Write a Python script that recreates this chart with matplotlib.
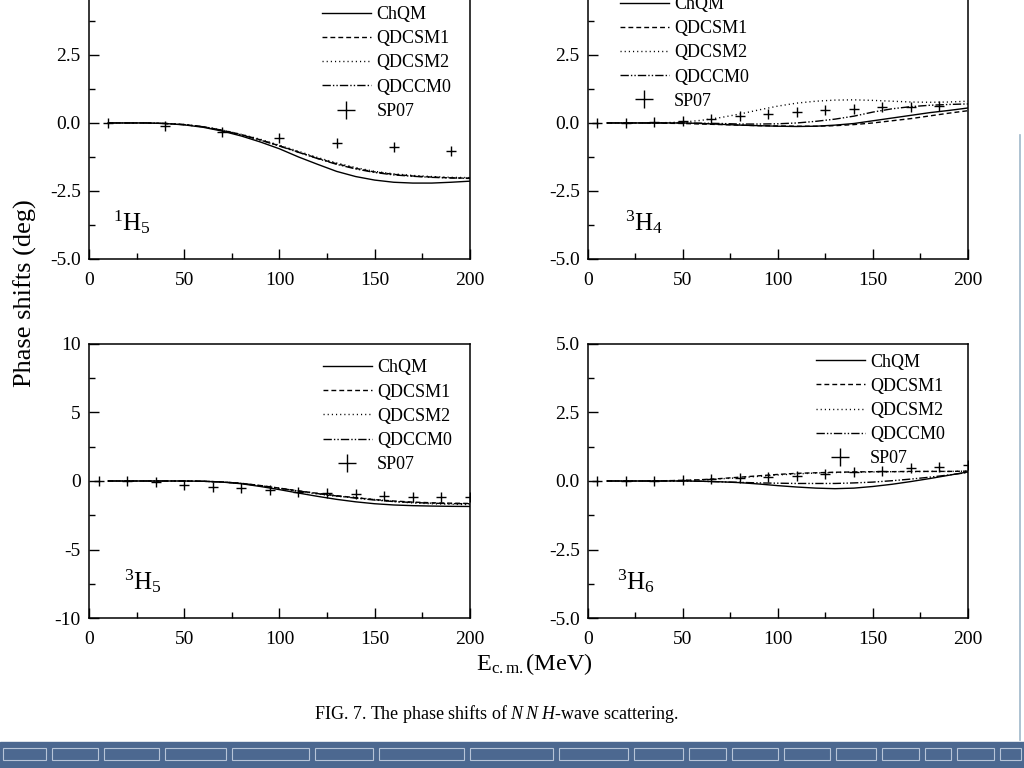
import matplotlib
matplotlib.use("Agg")
import matplotlib.pyplot as plt
from matplotlib.lines import Line2D
from matplotlib.patches import Rectangle
from matplotlib.ticker import MultipleLocator

plt.rcParams["font.family"] = ["Liberation Serif", "DejaVu Serif"]
plt.rcParams["mathtext.fontset"] = "custom"
plt.rcParams["mathtext.rm"] = "Liberation Serif"
plt.rcParams["mathtext.it"] = "Liberation Serif:italic"
plt.rcParams["axes.unicode_minus"] = False

# model curves, E_cm (MeV)
e_curve = [10, 20, 30, 40, 50, 60, 70, 80, 90, 100, 110, 120, 130, 140, 150, 160, 170, 180, 190, 200]

h15_chqm = [0, 0, 0, -0.02, -0.07, -0.16, -0.3, -0.48, -0.7, -0.95, -1.25, -1.52, -1.78, -1.97, -2.1, -2.18, -2.21, -2.21, -2.18, -2.14]
h15_qdcsm1 = [0, 0, 0, -0.02, -0.06, -0.14, -0.27, -0.43, -0.62, -0.84, -1.07, -1.3, -1.5, -1.67, -1.8, -1.89, -1.95, -1.99, -2.02, -2.03]
h15_qdcsm2 = [0, 0, 0, -0.02, -0.06, -0.14, -0.26, -0.42, -0.6, -0.82, -1.04, -1.27, -1.47, -1.64, -1.78, -1.87, -1.93, -1.97, -2.0, -2.01]
h15_qdccm0 = [0, 0, 0, -0.02, -0.06, -0.14, -0.27, -0.44, -0.63, -0.85, -1.08, -1.31, -1.52, -1.69, -1.82, -1.91, -1.96, -2.0, -2.02, -2.04]
h15_sp07_e = [10, 40, 70, 100, 130, 160, 190]
h15_sp07 = [0.0, -0.12, -0.33, -0.54, -0.74, -0.9, -1.03]

h34_chqm = [0, 0, 0, 0, 0, -0.02, -0.05, -0.08, -0.1, -0.12, -0.13, -0.12, -0.08, -0.02, 0.08, 0.18, 0.28, 0.38, 0.46, 0.55]
h34_qdcsm1 = [0, 0, 0, -0.01, -0.02, -0.04, -0.06, -0.08, -0.1, -0.11, -0.12, -0.12, -0.1, -0.06, 0.0, 0.08, 0.16, 0.26, 0.36, 0.45]
h34_qdcsm2 = [0, 0, 0, 0.01, 0.03, 0.1, 0.2, 0.33, 0.48, 0.62, 0.73, 0.8, 0.84, 0.85, 0.83, 0.8, 0.77, 0.76, 0.77, 0.8]
h34_qdccm0 = [0, 0, 0, 0, 0, -0.01, -0.02, -0.04, -0.04, -0.03, 0.0, 0.06, 0.14, 0.25, 0.4, 0.52, 0.6, 0.65, 0.68, 0.7]
h34_sp07_e = [5, 20, 35, 50, 65, 80, 95, 110, 125, 140, 155, 170, 185]
h34_sp07 = [0, 0, 0.02, 0.08, 0.16, 0.25, 0.33, 0.39, 0.46, 0.51, 0.57, 0.6, 0.63]

h35_chqm = [0, 0, 0, 0, 0, -0.02, -0.08, -0.2, -0.4, -0.63, -0.88, -1.12, -1.34, -1.52, -1.66, -1.75, -1.8, -1.83, -1.85, -1.86]
h35_qdcsm1 = [0, 0, 0, 0, 0, -0.02, -0.07, -0.17, -0.33, -0.52, -0.72, -0.9, -1.07, -1.22, -1.36, -1.46, -1.54, -1.59, -1.62, -1.64]
h35_qdcsm2 = [0, 0, 0, 0, 0, -0.02, -0.07, -0.18, -0.35, -0.55, -0.75, -0.95, -1.12, -1.2, -1.35, -1.5, -1.6, -1.66, -1.7, -1.72]
h35_qdccm0 = [0, 0, 0, 0, 0, -0.02, -0.07, -0.17, -0.34, -0.53, -0.73, -0.92, -1.09, -1.25, -1.39, -1.5, -1.57, -1.62, -1.65, -1.66]
h35_sp07_e = [5, 20, 35, 50, 65, 80, 95, 110, 125, 140, 155, 170, 185, 200]
h35_sp07 = [0, -0.03, -0.1, -0.29, -0.41, -0.53, -0.65, -0.8, -0.9, -0.97, -1.07, -1.14, -1.16, -1.16]

h36_chqm = [0, 0, 0, 0, 0, -0.01, -0.03, -0.06, -0.11, -0.17, -0.22, -0.26, -0.28, -0.26, -0.2, -0.12, -0.02, 0.09, 0.21, 0.33]
h36_qdcsm1 = [0, 0, 0, 0.01, 0.02, 0.05, 0.09, 0.14, 0.19, 0.24, 0.28, 0.3, 0.32, 0.33, 0.34, 0.34, 0.35, 0.35, 0.35, 0.36]
h36_qdcsm2 = [0, 0, 0, 0.01, 0.02, 0.04, 0.08, 0.12, 0.17, 0.22, 0.26, 0.29, 0.31, 0.32, 0.33, 0.34, 0.34, 0.35, 0.35, 0.36]
h36_qdccm0 = [0, 0, 0, 0, 0, -0.01, -0.03, -0.05, -0.07, -0.08, -0.09, -0.09, -0.09, -0.07, -0.04, 0.01, 0.07, 0.14, 0.22, 0.31]
h36_sp07_e = [5, 20, 35, 50, 65, 80, 95, 110, 125, 140, 155, 170, 185, 200]
h36_sp07 = [0, 0, 0, 0.04, 0.06, 0.1, 0.15, 0.19, 0.26, 0.32, 0.36, 0.46, 0.52, 0.6]

model_names = ["ChQM", "QDCSM1", "QDCSM2", "QDCCM0"]
styles = ["-", (0, (3.5, 2.2)), (0, (0.8, 2.2)), (0, (6, 1.5, 1, 1.5, 1, 1.5))]

panels = [
    dict(rect=[0.0869, 0.6628, 0.372, 0.3542], ylim=(-5, 5), major=2.5, fmt="%.1f",
         curves=[h15_chqm, h15_qdcsm1, h15_qdcsm2, h15_qdccm0], pe=h15_sp07_e, pv=h15_sp07,
         label=r"$^{1}\mathrm{H}_{5}$", lx=0.063, leg=(0.612, 0.93)),
    dict(rect=[0.5742, 0.6628, 0.371, 0.3542], ylim=(-5, 5), major=2.5, fmt="%.1f",
         curves=[h34_chqm, h34_qdcsm1, h34_qdcsm2, h34_qdccm0], pe=h34_sp07_e, pv=h34_sp07,
         label=r"$^{3}\mathrm{H}_{4}$", lx=0.097, leg=(0.084, 0.967)),
    dict(rect=[0.0869, 0.1953, 0.372, 0.3568], ylim=(-10, 10), major=5, fmt="%d",
         curves=[h35_chqm, h35_qdcsm1, h35_qdcsm2, h35_qdccm0], pe=h35_sp07_e, pv=h35_sp07,
         label=r"$^{3}\mathrm{H}_{5}$", lx=0.092, leg=(0.614, 0.944)),
    dict(rect=[0.5742, 0.1953, 0.371, 0.3568], ylim=(-5, 5), major=2.5, fmt="%.1f",
         curves=[h36_chqm, h36_qdcsm1, h36_qdcsm2, h36_qdccm0], pe=h36_sp07_e, pv=h36_sp07,
         label=r"$^{3}\mathrm{H}_{6}$", lx=0.076, leg=(0.6, 0.965)),
]

fig = plt.figure(figsize=(10.24, 7.68), dpi=100)

for p in panels:
    ax = fig.add_axes(p["rect"])
    for name, ls, yv in zip(model_names, styles, p["curves"]):
        ax.plot(e_curve, yv, color="black", lw=1.0, linestyle=ls, label=name)
    ax.plot(p["pe"], p["pv"], linestyle="none", marker="+", ms=7, mew=1.0, color="black", label="SP07")
    ax.set_xlim(0, 200)
    ax.set_ylim(*p["ylim"])
    ax.xaxis.set_major_locator(MultipleLocator(50))
    ax.xaxis.set_minor_locator(MultipleLocator(25))
    ax.yaxis.set_major_locator(MultipleLocator(p["major"]))
    ax.yaxis.set_minor_locator(MultipleLocator(p["major"] / 2))
    ax.yaxis.set_major_formatter(matplotlib.ticker.FormatStrFormatter(p["fmt"]))
    ax.tick_params(which="both", direction="in", top=False, right=False, labelsize=14, width=1.0)
    ax.tick_params(which="major", length=7)
    ax.tick_params(axis="x", which="major", pad=9.5)
    ax.tick_params(axis="y", which="major", pad=6)
    ax.tick_params(which="minor", length=4)
    for s in ax.spines.values():
        s.set_linewidth(1.1)
    ax.text(p["lx"], 0.135, p["label"], transform=ax.transAxes, fontsize=18, va="center", ha="left")
    ax.legend(loc="upper left", bbox_to_anchor=p["leg"], frameon=False, fontsize=13,
              handlelength=2.7, handletextpad=0.3, labelspacing=0.4, borderpad=0,
              borderaxespad=0, markerscale=1.8)

fig.text(0.025, 0.618, "Phase shifts (deg)", rotation=90, fontsize=19, ha="center", va="center")
fig.text(0.522, 0.135, r"$\mathrm{E}_{\mathrm{c{.}m{.}}}$(MeV)", fontsize=17.5, ha="center", va="center")
fig.text(0.485, 0.0703, r"FIG. 7. The phase shifts of $N\,N$ $H$-wave scattering.", fontsize=13,
         ha="center", va="center")

# slide decoration: bottom brick band and right edge line
fig.add_artist(Rectangle((0, 0), 1, 26 / 768, transform=fig.transFigure, color="#4c6890", zorder=0))
edges = [0, 49, 101, 162, 229, 312, 376, 467, 556, 631, 686, 729, 781, 833, 879, 922, 954, 997, 1024]
for a, b in zip(edges[:-1], edges[1:]):
    fig.add_artist(Rectangle(((a + 3) / 1024, 8 / 768), (b - a - 6) / 1024, 12 / 768,
                             transform=fig.transFigure, fill=False, ec="#b7c4d8", lw=0.8, zorder=1))
fig.add_artist(Line2D([1020 / 1024, 1020 / 1024], [28 / 768, 633 / 768], transform=fig.transFigure,
                      color="#9fb7c9", lw=1.2))

fig.savefig("out.png", dpi=100)
